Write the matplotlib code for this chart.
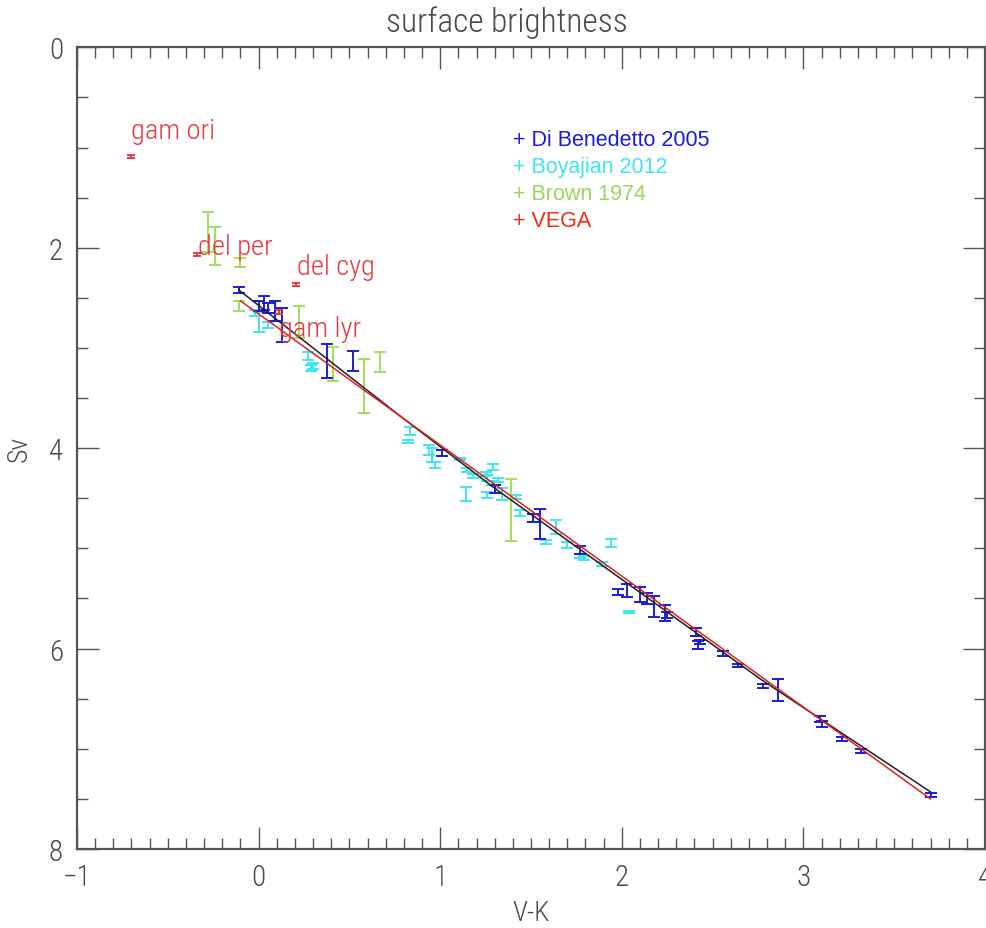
import matplotlib
matplotlib.use("Agg")
import matplotlib.pyplot as plt
from matplotlib.ticker import MultipleLocator
import numpy as np

# ---- data ----
blue_x = [-0.11, 0.0, 0.03, 0.05, 0.09, 0.13, 0.375, 0.52, 1.01, 1.30, 1.51, 1.55, 1.77,
          1.98, 2.03, 2.10, 2.14, 2.18, 2.24, 2.25, 2.41, 2.42, 2.43, 2.555, 2.64, 2.78,
          2.86, 3.09, 3.10, 3.215, 3.315, 3.70]
blue_y = [2.42, 2.58, 2.55, 2.60, 2.63, 2.77, 3.13, 3.13, 4.05, 4.41, 4.70, 4.76, 5.02,
          5.44, 5.42, 5.46, 5.50, 5.58, 5.64, 5.66, 5.83, 5.96, 5.93, 6.05, 6.17, 6.37,
          6.41, 6.70, 6.75, 6.90, 7.02, 7.46]
blue_err = [0.03, 0.05, 0.07, 0.05, 0.10, 0.17, 0.17, 0.10, 0.03, 0.04, 0.04, 0.15, 0.04,
            0.03, 0.065, 0.07, 0.05, 0.10, 0.08, 0.03, 0.04, 0.04, 0.02, 0.025, 0.015, 0.02,
            0.11, 0.03, 0.03, 0.02, 0.02, 0.02]

cyan_x = [-0.02, 0.0, 0.05, 0.27, 0.29, 0.30, 0.82, 0.835, 0.94, 0.955, 0.97, 1.11, 1.14,
          1.15, 1.18, 1.25, 1.255, 1.26, 1.285, 1.29, 1.32, 1.34, 1.415, 1.44, 1.51, 1.58,
          1.64, 1.70, 1.77, 1.79, 1.89, 1.94, 2.04]
cyan_y = [2.65, 2.74, 2.77, 3.08, 3.20, 3.18, 3.93, 3.83, 4.02, 4.07, 4.17, 4.11, 4.46,
          4.22, 4.28, 4.26, 4.47, 4.30, 4.35, 4.19, 4.32, 4.46, 4.49, 4.65, 4.70, 4.94,
          4.79, 4.97, 5.08, 5.10, 5.16, 4.95, 5.63]
cyan_err = [0.03, 0.10, 0.03, 0.04, 0.03, 0.03, 0.015, 0.04, 0.05, 0.07, 0.03, 0.01, 0.07,
            0.02, 0.02, 0.02, 0.03, 0.03, 0.02, 0.03, 0.02, 0.06, 0.02, 0.03, 0.04, 0.02,
            0.07, 0.03, 0.02, 0.02, 0.02, 0.04, 0.01]

green_x = [-0.28, -0.24, -0.11, -0.10, 0.22, 0.41, 0.58, 0.67, 1.39]
green_y = [1.84, 1.985, 2.58, 2.15, 2.74, 3.16, 3.38, 3.14, 4.62]
green_err = [0.20, 0.19, 0.05, 0.045, 0.16, 0.17, 0.27, 0.10, 0.31]

vega_x = [-0.705, -0.34, 0.205, 0.11]
vega_y = [1.09, 2.07, 2.37, 2.64]
vega_err = [0.015, 0.015, 0.015, 0.02]
vega_names = ["gam ori", "del per", "del cyg", "gam lyr"]

fit_black_x = [-0.11, 0.3, 0.78, 1.3, 1.77, 2.3, 2.76, 3.2, 3.70]
fit_black_y = [2.42, 3.00, 3.68, 4.40, 5.01, 5.70, 6.30, 6.83, 7.43]
fit_red_x = [-0.10, 3.70]
fit_red_y = [2.53, 7.50]

legend_labels = ["+ Di Benedetto 2005", "+ Boyajian 2012", "+ Brown 1974", "+ VEGA"]

# ---- style ----
C_BLUE = "#1c1cd6"
C_CYAN = "#3ee6ee"
C_GREEN = "#9ee05a"
C_RED = "#e8383f"
C_LEG = [C_BLUE, "#3ee6ee", "#99d65a", "#f02a10"]
TXT = "#4a4a4a"
FONT = ["Roboto Condensed", "Roboto", "DejaVu Sans"]
FW = "light"

fig = plt.figure(figsize=(9.87, 9.29), dpi=100)
ax = fig.add_axes([0.078, 0.085, 0.920, 0.863])

ax.plot(fit_black_x, fit_black_y, color="#202020", lw=1.1, zorder=3)
ax.plot(fit_red_x, fit_red_y, color="#e02020", lw=1.1, zorder=3)

ekw = dict(fmt="none", capsize=4.5, elinewidth=1.4, capthick=1.4, zorder=2)
ax.errorbar(cyan_x, cyan_y, yerr=cyan_err, ecolor=C_CYAN, **ekw)
ax.errorbar(green_x, green_y, yerr=green_err, ecolor=C_GREEN, **ekw)
ax.errorbar(blue_x, blue_y, yerr=blue_err, ecolor=C_BLUE, **ekw)
ax.errorbar(vega_x, vega_y, yerr=vega_err, ecolor=C_RED, fmt="none", capsize=3,
            elinewidth=1.4, capthick=1.4, zorder=4)

# star labels
label_pos = [(-0.703, 0.83), (-0.335, 1.99), (0.21, 2.19), (0.11, 2.81)]
for name, (lx, ly) in zip(vega_names, label_pos):
    ax.text(lx, ly, name, color=C_RED, fontsize=20.5, family=FONT, fontweight=FW,
            va="center", ha="left", zorder=5)

for i, (lab, c) in enumerate(zip(legend_labels, C_LEG)):
    ax.text(0.4805, 0.885 - i * 0.0337, lab, transform=ax.transAxes, color=c,
            fontsize=15.5, family=["Liberation Sans", "DejaVu Sans"], va="center", ha="left")

ax.set_xlim(-1, 4)
ax.set_ylim(8, 0)
ax.xaxis.set_major_locator(MultipleLocator(1))
ax.xaxis.set_minor_locator(MultipleLocator(0.1))
ax.yaxis.set_major_locator(MultipleLocator(2))
ax.yaxis.set_minor_locator(MultipleLocator(0.5))
ax.tick_params(which="both", direction="in", top=True, right=True, color="#555555",
               width=1.0, labelsize=21, labelcolor=TXT, pad=10)
ax.tick_params(which="major", length=16)
ax.tick_params(which="minor", length=8)
for lab in ax.get_xticklabels() + ax.get_yticklabels():
    lab.set_family(FONT)
    lab.set_fontweight(FW)
for s in ax.spines.values():
    s.set_color("#555555")
    s.set_linewidth(1.6)

ax.set_xlabel("V-K", fontsize=20, color=TXT, family=FONT, fontweight=FW, labelpad=6)
ax.set_ylabel("Sv", fontsize=20, color=TXT, family=FONT, fontweight=FW, labelpad=12)
ax.text(0.473, 1.012, "surface brightness", transform=ax.transAxes, fontsize=24,
        color=TXT, family=FONT, fontweight=FW, ha="center", va="bottom")

fig.savefig("out.png", dpi=100)
